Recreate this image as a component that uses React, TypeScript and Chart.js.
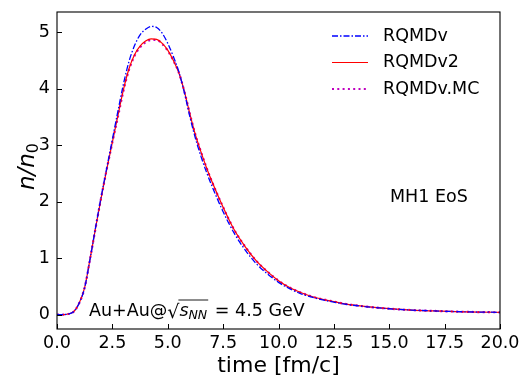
import React, { useEffect, useRef } from "react";
import { Chart, registerables } from "chart.js";

Chart.register(...registerables);

const times = [0, 0.25, 0.5, 0.75, 1.0, 1.25, 1.5, 1.75, 2.0, 2.25, 2.5, 2.75, 3.0, 3.25, 3.5, 3.75, 4.0, 4.25, 4.5, 4.75, 5.0, 5.25, 5.5, 5.75, 6.0, 6.25, 6.5, 6.75, 7.0, 7.5, 8.0, 8.5, 9.0, 9.5, 10, 10.5, 11, 11.5, 12, 12.5, 13, 14, 15, 16, 17, 18, 19, 20];

const rqmdv = [0, 0.0, 0.01, 0.05, 0.2, 0.48, 1.0, 1.56, 2.1, 2.6, 3.1, 3.6, 4.08, 4.48, 4.76, 4.95, 5.05, 5.1, 5.08, 4.98, 4.8, 4.57, 4.3, 3.93, 3.5, 3.12, 2.8, 2.52, 2.27, 1.82, 1.44, 1.14, 0.9, 0.72, 0.57, 0.46, 0.37, 0.31, 0.26, 0.22, 0.185, 0.137, 0.103, 0.08, 0.065, 0.053, 0.045, 0.04];

const rqmdv2 = [0, 0.0, 0.01, 0.05, 0.2, 0.48, 1.0, 1.55, 2.08, 2.58, 3.05, 3.52, 3.98, 4.35, 4.6, 4.75, 4.84, 4.88, 4.87, 4.8, 4.68, 4.5, 4.28, 3.95, 3.55, 3.18, 2.88, 2.6, 2.35, 1.9, 1.5, 1.2, 0.95, 0.76, 0.6, 0.48, 0.39, 0.32, 0.27, 0.23, 0.19, 0.14, 0.105, 0.08, 0.065, 0.053, 0.045, 0.04];

const rqmdvMC = [0, 0.0, 0.01, 0.05, 0.2, 0.48, 1.0, 1.55, 2.08, 2.58, 3.05, 3.5, 3.96, 4.33, 4.58, 4.73, 4.82, 4.86, 4.86, 4.79, 4.67, 4.5, 4.28, 3.95, 3.55, 3.18, 2.88, 2.6, 2.35, 1.9, 1.5, 1.2, 0.95, 0.76, 0.6, 0.48, 0.39, 0.32, 0.27, 0.23, 0.19, 0.14, 0.105, 0.08, 0.065, 0.053, 0.045, 0.04];

const seriesNames = ["RQMDv", "RQMDv2", "RQMDv.MC"];
const xTicks = [0, 2.5, 5, 7.5, 10, 12.5, 15, 17.5, 20];
const yTicks = [0, 1, 2, 3, 4, 5];
const xTitle = "time [fm/c]";
const eosLabel = "MH1 EoS";

const FONT = "'DejaVu Sans', sans-serif";

const colors = ["#0000ff", "#ff0000", "#bf00bf"];
const dashes = [[6, 2, 1.5, 2], [], [2, 3.3]];
const widths = [1.3, 1.2, 2.2];

const framePlugin = {
  id: "frame",
  afterDraw(chart: any) {
    const { ctx, chartArea: a, scales } = chart;
    const xs = scales.x;
    const ys = scales.y;
    ctx.save();
    ctx.strokeStyle = "#000";
    ctx.lineWidth = 1.1;
    ctx.setLineDash([]);
    ctx.strokeRect(a.left, a.top, a.right - a.left, a.bottom - a.top);
    // inward ticks
    ctx.lineWidth = 1;
    for (const v of xTicks) {
      const px = Math.round(xs.getPixelForValue(v)) + 0.5;
      ctx.beginPath();
      ctx.moveTo(px, a.bottom);
      ctx.lineTo(px, a.bottom - 5);
      ctx.stroke();
    }
    for (const v of yTicks) {
      const py = Math.round(ys.getPixelForValue(v)) + 0.5;
      ctx.beginPath();
      ctx.moveTo(a.left, py);
      ctx.lineTo(a.left + 5, py);
      ctx.stroke();
    }

    ctx.fillStyle = "#000";
    // x title
    ctx.font = `22px ${FONT}`;
    ctx.textAlign = "center";
    ctx.textBaseline = "middle";
    ctx.fillText(xTitle, (a.left + a.right) / 2, 366);

    // y title n/n_0
    ctx.save();
    ctx.translate(26, (a.top + a.bottom) / 2 - 4);
    ctx.rotate(-Math.PI / 2);
    ctx.font = `italic 23px ${FONT}`;
    const main = "n/n";
    const mw = ctx.measureText(main).width;
    ctx.font = `16px ${FONT}`;
    const sw = ctx.measureText("0").width;
    const total = mw + sw;
    ctx.textAlign = "left";
    ctx.textBaseline = "alphabetic";
    ctx.font = `italic 23px ${FONT}`;
    ctx.fillText(main, -total / 2, 8);
    ctx.font = `16px ${FONT}`;
    ctx.fillText("0", -total / 2 + mw, 12);
    ctx.restore();

    // legend
    ctx.textAlign = "left";
    ctx.textBaseline = "middle";
    const rows = [36, 62.5, 89];
    for (let i = 0; i < 3; i++) {
      ctx.save();
      ctx.strokeStyle = colors[i];
      ctx.lineWidth = widths[i];
      ctx.setLineDash(dashes[i]);
      ctx.beginPath();
      ctx.moveTo(332, rows[i]);
      ctx.lineTo(368, rows[i]);
      ctx.stroke();
      ctx.restore();
      ctx.font = `17.5px ${FONT}`;
      ctx.fillText(seriesNames[i], 383, rows[i]);
    }

    // EoS label
    ctx.font = `17.5px ${FONT}`;
    ctx.fillText(eosLabel, 390, 197);

    // Au+Au label
    let x = 89;
    const yb = 316;
    ctx.textBaseline = "alphabetic";
    ctx.font = `17.5px ${FONT}`;
    const part1 = "Au+Au@";
    ctx.fillText(part1, x, yb);
    x += ctx.measureText(part1).width;
    // radical
    ctx.font = `19px ${FONT}`;
    const rad = "\u221A";
    ctx.fillText(rad, x, yb + 2);
    const rw = ctx.measureText(rad).width;
    x += rw;
    const startOver = x - 1;
    ctx.font = `italic 17.5px ${FONT}`;
    ctx.fillText("s", x, yb);
    x += ctx.measureText("s").width;
    ctx.font = `italic 12.5px ${FONT}`;
    ctx.fillText("NN", x, yb + 3);
    x += ctx.measureText("NN").width + 1;
    ctx.beginPath();
    ctx.lineWidth = 0.9;
    ctx.moveTo(startOver, yb - 16);
    ctx.lineTo(x, yb - 16);
    ctx.stroke();
    ctx.font = `17.5px ${FONT}`;
    ctx.fillText(" = 4.5 GeV", x + 1, yb);
    ctx.restore();
  },
};

export default function App() {
  const ref = useRef<HTMLCanvasElement | null>(null);
  useEffect(() => {
    document.body.style.margin = "0";
    if (!ref.current) return;
    const mk = (vals: number[]) => times.map((t, i) => ({ x: t, y: vals[i] }));
    const all = [rqmdv, rqmdv2, rqmdvMC];
    const chart = new Chart(ref.current, {
      type: "line",
      data: {
        datasets: all.map((vals, i) => ({
          label: seriesNames[i],
          data: mk(vals),
          borderColor: colors[i],
          borderWidth: widths[i],
          borderDash: dashes[i],
          pointRadius: 0,
          fill: false,
          cubicInterpolationMode: "monotone" as const,
        })),
      },
      options: {
        animation: false,
        responsive: false,
        maintainAspectRatio: false,
        layout: { padding: { top: 12, right: 23, left: 0, bottom: 0 } },
        plugins: { legend: { display: false }, tooltip: { enabled: false } },
        scales: {
          x: {
            type: "linear",
            min: 0,
            max: 20,
            afterFit(scale: any) {
              scale.height = 63;
              scale.paddingLeft = 0;
              scale.paddingRight = 0;
            },
            afterBuildTicks(scale: any) {
              scale.ticks = xTicks.map((v) => ({ value: v }));
            },
            grid: { display: false, drawTicks: false },
            border: { display: false },
            ticks: {
              color: "#000",
              font: { family: FONT, size: 17.5 },
              padding: 4,
              maxRotation: 0,
              autoSkip: false,
              callback: (v: any) => Number(v).toFixed(1),
            },
          },
          y: {
            type: "linear",
            min: -0.255,
            max: 5.355,
            afterFit(scale: any) {
              scale.width = 57;
              scale.paddingTop = 0;
              scale.paddingBottom = 0;
            },
            afterBuildTicks(scale: any) {
              scale.ticks = yTicks.map((v) => ({ value: v }));
            },
            grid: { display: false, drawTicks: false },
            border: { display: false },
            ticks: {
              color: "#000",
              font: { family: FONT, size: 17.5 },
              padding: 7,
              autoSkip: false,
              callback: (v: any) => String(v),
            },
          },
        },
      },
      plugins: [framePlugin],
    });
    return () => chart.destroy();
  }, []);
  return (
    <div style={{ position: "fixed", left: 0, top: 0, width: 523, height: 392, background: "#fff" }}>
      <canvas ref={ref} width={523} height={392} style={{ width: 523, height: 392 }} />
    </div>
  );
}
